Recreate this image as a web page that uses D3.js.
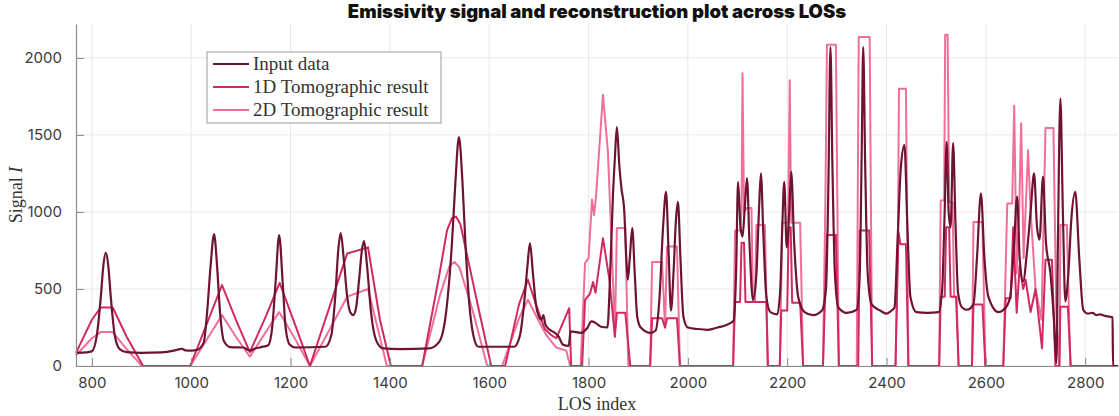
<!DOCTYPE html>
<html>
<head>
<meta charset="utf-8">
<script src="https://cdn.jsdelivr.net/npm/d3@7/dist/d3.min.js"></script>
<style>
  html, body { margin: 0; padding: 0; background: #fff; }
  svg { display: block; }
</style>
</head>
<body>
<svg id="chart" width="1119" height="416"></svg>
<script>
// LOS index / signal pairs for each series
const inputData = [
  [768,85],[790,88],[800,95],[810,200],[818,450],[823,650],[828,735],[833,650],[838,450],[846,200],[856,110],[870,90],[900,85],[940,88],[965,100],[975,108],[981,112],[988,102],[1000,100],[1012,105],[1025,150],[1032,350],[1039,650],[1046,857],[1052,650],[1058,350],[1066,160],[1078,123],[1105,120],[1114,105],[1120,100],[1126,110],[1140,122],[1155,135],[1163,250],[1170,550],[1177,850],[1184,550],[1190,250],[1198,140],[1210,120],[1270,125],[1282,200],[1290,450],[1296,750],[1301,863],[1307,700],[1314,450],[1320,350],[1326,330],[1332,380],[1338,560],[1344,760],[1348,811],[1354,650],[1362,350],[1372,170],[1386,115],[1420,110],[1480,115],[1500,160],[1515,400],[1525,800],[1532,1200],[1539,1486],[1546,1200],[1552,800],[1560,400],[1568,200],[1578,125],[1650,125],[1662,200],[1670,400],[1677,650],[1682,798],[1688,600],[1694,400],[1700,320],[1705,300],[1709,330],[1713,270],[1720,240],[1730,220],[1740,190],[1748,140],[1760,130],[1764,225],[1785,215],[1797,245],[1806,290],[1814,280],[1825,255],[1838,250],[1843,550],[1849,1100],[1853,1350],[1857,1551],[1862,1300],[1866,1160],[1872,1000],[1876,700],[1879,560],[1883,700],[1888,895],[1893,600],[1898,320],[1905,250],[1925,215],[1935,230],[1943,450],[1950,900],[1956,1130],[1961,750],[1966,360],[1971,600],[1976,950],[1980,1065],[1985,700],[1991,320],[2000,250],[2020,240],[2040,235],[2060,250],[2080,270],[2092,295],[2097,600],[2101,1195],[2106,900],[2110,840],[2114,1000],[2119,1220],[2124,800],[2131,430],[2138,600],[2143,1000],[2147,1250],[2152,850],[2158,450],[2166,350],[2180,335],[2186,500],[2190,900],[2194,1195],[2199,770],[2204,1000],[2208,1260],[2214,800],[2222,450],[2235,350],[2252,330],[2270,360],[2278,500],[2283,1200],[2287,2070],[2291,1300],[2296,600],[2303,380],[2320,345],[2340,365],[2346,600],[2350,1400],[2353,2070],[2357,1300],[2362,600],[2370,400],[2387,360],[2400,340],[2408,355],[2416,380],[2422,800],[2429,1300],[2436,1434],[2442,900],[2448,450],[2460,350],[2482,345],[2505,350],[2512,500],[2517,1000],[2521,1455],[2525,1000],[2529,900],[2534,1447],[2539,900],[2544,475],[2552,380],[2562,365],[2575,400],[2582,700],[2590,1120],[2597,700],[2605,450],[2625,350],[2640,380],[2649,450],[2656,750],[2663,1100],[2668,700],[2675,550],[2683,750],[2690,1000],[2697,1250],[2703,900],[2708,820],[2715,1230],[2721,800],[2730,600],[2737,300],[2742,20],[2745,800],[2750,1735],[2755,1000],[2760,420],[2766,600],[2772,950],[2780,1130],[2788,700],[2796,365],[2805,340],[2815,345],[2822,330],[2830,335],[2840,325],[2850,320],[2855,315],[2856,0],[2866,0]
];

const tomo1D = [
  [768,85],[800,300],[818,380],[842,380],[870,190],[903,0],[998,0],[1062,525],[1090,300],[1118,90],[1150,320],[1178,540],[1210,260],[1239,0],[1314,730],[1356,770],[1380,300],[1402,0],[1465,0],[1500,600],[1515,880],[1525,960],[1533,970],[1542,920],[1560,650],[1580,350],[1604,0],[1632,0],[1660,400],[1678,560],[1692,420],[1705,300],[1712,240],[1725,200],[1735,180],[1761,375],[1765,0],[1787,0],[1793,430],[1803,470],[1809,545],[1814,475],[1829,830],[1842,560],[1853,190],[1857,345],[1874,345],[1884,0],[1924,0],[1928,310],[1948,310],[1954,250],[1958,310],[1978,310],[1984,0],[2091,0],[2095,415],[2105,415],[2108,800],[2113,800],[2116,415],[2158,415],[2161,0],[2185,0],[2188,360],[2200,360],[2203,900],[2207,900],[2210,410],[2226,410],[2232,0],[2272,0],[2280,850],[2298,850],[2304,0],[2343,0],[2346,880],[2365,880],[2371,0],[2418,0],[2424,870],[2428,790],[2439,790],[2444,0],[2506,0],[2509,450],[2517,450],[2520,900],[2526,900],[2529,450],[2540,450],[2545,0],[2572,0],[2575,400],[2593,400],[2599,0],[2635,0],[2640,440],[2650,440],[2655,900],[2662,345],[2668,650],[2675,500],[2680,560],[2690,350],[2700,500],[2713,115],[2720,690],[2733,690],[2740,0],[2748,0],[2750,385],[2765,385],[2771,0],[2866,0]
];

const tomo2D = [
  [768,70],[800,180],[818,220],[842,220],[870,110],[901,0],[998,0],[1062,330],[1090,190],[1118,60],[1150,220],[1177,350],[1210,170],[1239,0],[1314,450],[1356,500],[1375,250],[1394,0],[1465,0],[1500,450],[1520,650],[1530,675],[1540,640],[1565,380],[1596,0],[1626,0],[1660,310],[1678,430],[1700,290],[1715,200],[1735,120],[1755,100],[1763,0],[1784,0],[1793,670],[1800,700],[1807,1080],[1811,980],[1815,1100],[1829,1760],[1839,1390],[1849,580],[1853,190],[1857,895],[1874,895],[1880,0],[1924,0],[1928,675],[1948,675],[1954,250],[1958,775],[1978,775],[1984,0],[2091,0],[2095,880],[2105,880],[2108,1000],[2110,1900],[2113,1000],[2118,1025],[2128,1025],[2131,415],[2135,415],[2138,915],[2155,915],[2161,0],[2185,0],[2190,930],[2202,930],[2205,1855],[2208,930],[2226,930],[2232,0],[2272,0],[2277,1110],[2280,2085],[2298,2085],[2304,0],[2340,0],[2344,2135],[2366,2135],[2371,0],[2418,0],[2423,870],[2425,1800],[2439,1800],[2444,0],[2506,0],[2509,1075],[2516,1075],[2518,2150],[2523,2150],[2526,1065],[2533,1065],[2536,450],[2541,450],[2545,0],[2572,0],[2575,935],[2593,935],[2599,0],[2635,0],[2643,1055],[2653,1055],[2657,1690],[2662,600],[2667,1000],[2671,1575],[2676,700],[2685,1400],[2690,1010],[2700,500],[2712,300],[2720,1545],[2736,1545],[2742,300],[2748,0],[2750,915],[2763,915],[2770,0],[2866,0]
];

const xTicks = [800, 1000, 1200, 1400, 1600, 1800, 2000, 2200, 2400, 2600, 2800];
const yTicks = [0, 500, 1000, 1500, 2000];
const seriesNames = ["Input data", "1D Tomographic result", "2D Tomographic result"];
const seriesColors = ["#6d1431", "#d02a5f", "#f06f98"];

const svg = d3.select("#chart");
const margin = { left: 76, right: 1, top: 24, bottom: 50 };
const W = 1119, H = 416;

const x = d3.scaleLinear().domain([768, 2866]).range([margin.left, W - margin.right]);
const y = d3.scaleLinear().domain([0, 2220]).range([H - margin.bottom, margin.top]);

// grid
const grid = svg.append("g");
grid.selectAll("line.v").data(xTicks).join("line")
  .attr("x1", d => x(d)).attr("x2", d => x(d))
  .attr("y1", y(0)).attr("y2", margin.top)
  .attr("stroke", "#e8e8e8").attr("stroke-width", 1);
grid.selectAll("line.h").data(yTicks).join("line")
  .attr("x1", margin.left).attr("x2", W - margin.right)
  .attr("y1", d => y(d)).attr("y2", d => y(d))
  .attr("stroke", "#e8e8e8").attr("stroke-width", 1);

// series
const lineSmooth = d3.line().x(d => x(d[0])).y(d => y(d[1])).curve(d3.curveMonotoneX);
const lineStraight = d3.line().x(d => x(d[0])).y(d => y(d[1]));

const plot = svg.append("g");
plot.append("path").datum(tomo2D).attr("d", lineStraight)
  .attr("fill", "none").attr("stroke", seriesColors[2]).attr("stroke-width", 2).attr("stroke-linejoin", "round");
plot.append("path").datum(tomo1D).attr("d", lineStraight)
  .attr("fill", "none").attr("stroke", seriesColors[1]).attr("stroke-width", 2).attr("stroke-linejoin", "round");
plot.append("path").datum(inputData).attr("d", lineSmooth)
  .attr("fill", "none").attr("stroke", seriesColors[0]).attr("stroke-width", 2.2).attr("stroke-linejoin", "round");

// axes
const tickFont = "Inter, 'Open Sans', sans-serif";
const xAxis = svg.append("g").attr("transform", `translate(0,${y(0)})`)
  .call(d3.axisBottom(x).tickValues(xTicks).tickSizeInner(-8).tickSizeOuter(0).tickPadding(11).tickFormat(d3.format("d")));
const yAxis = svg.append("g").attr("transform", `translate(${margin.left},0)`)
  .call(d3.axisLeft(y).tickValues(yTicks).tickSizeInner(-8).tickSizeOuter(0).tickPadding(14).tickFormat(d3.format("d")));
[xAxis, yAxis].forEach(a => {
  a.select(".domain").attr("stroke", "#8a8a8a").attr("stroke-width", 1.2);
  a.selectAll(".tick line").attr("stroke", "#8a8a8a");
  a.selectAll(".tick text").attr("fill", "#3a3a3a").style("font-family", tickFont).style("font-size", "15px");
});

// title and axis labels
svg.append("text").attr("x", 597).attr("y", 18).attr("text-anchor", "middle")
  .style("font-family", tickFont).style("font-weight", 900).style("font-size", "18.5px")
  .attr("fill", "#111").text("Emissivity signal and reconstruction plot across LOSs");

const serif = "'Liberation Serif', 'DejaVu Serif', serif";
svg.append("text").attr("x", 597).attr("y", 410).attr("text-anchor", "middle")
  .style("font-family", serif).style("font-size", "18px").attr("fill", "#333").text("LOS index");

const yl = svg.append("text").attr("transform", "translate(22,195) rotate(-90)").attr("text-anchor", "middle")
  .style("font-family", serif).style("font-size", "18px").attr("fill", "#333");
yl.append("tspan").text("Signal ");
yl.append("tspan").style("font-style", "italic").text("I");

// legend
const lg = svg.append("g").attr("transform", "translate(207,52)");
lg.append("rect").attr("width", 234).attr("height", 71).attr("fill", "#fff").attr("stroke", "#9a9a9a").attr("stroke-width", 1);
seriesNames.forEach((name, i) => {
  const cy = 12 + i * 23;
  lg.append("line").attr("x1", 6).attr("x2", 42).attr("y1", cy).attr("y2", cy)
    .attr("stroke", seriesColors[i]).attr("stroke-width", 2);
  lg.append("text").attr("x", 46).attr("y", cy + 6)
    .style("font-family", serif).style("font-size", "19px").attr("fill", "#333").text(name);
});
</script>
</body>
</html>
